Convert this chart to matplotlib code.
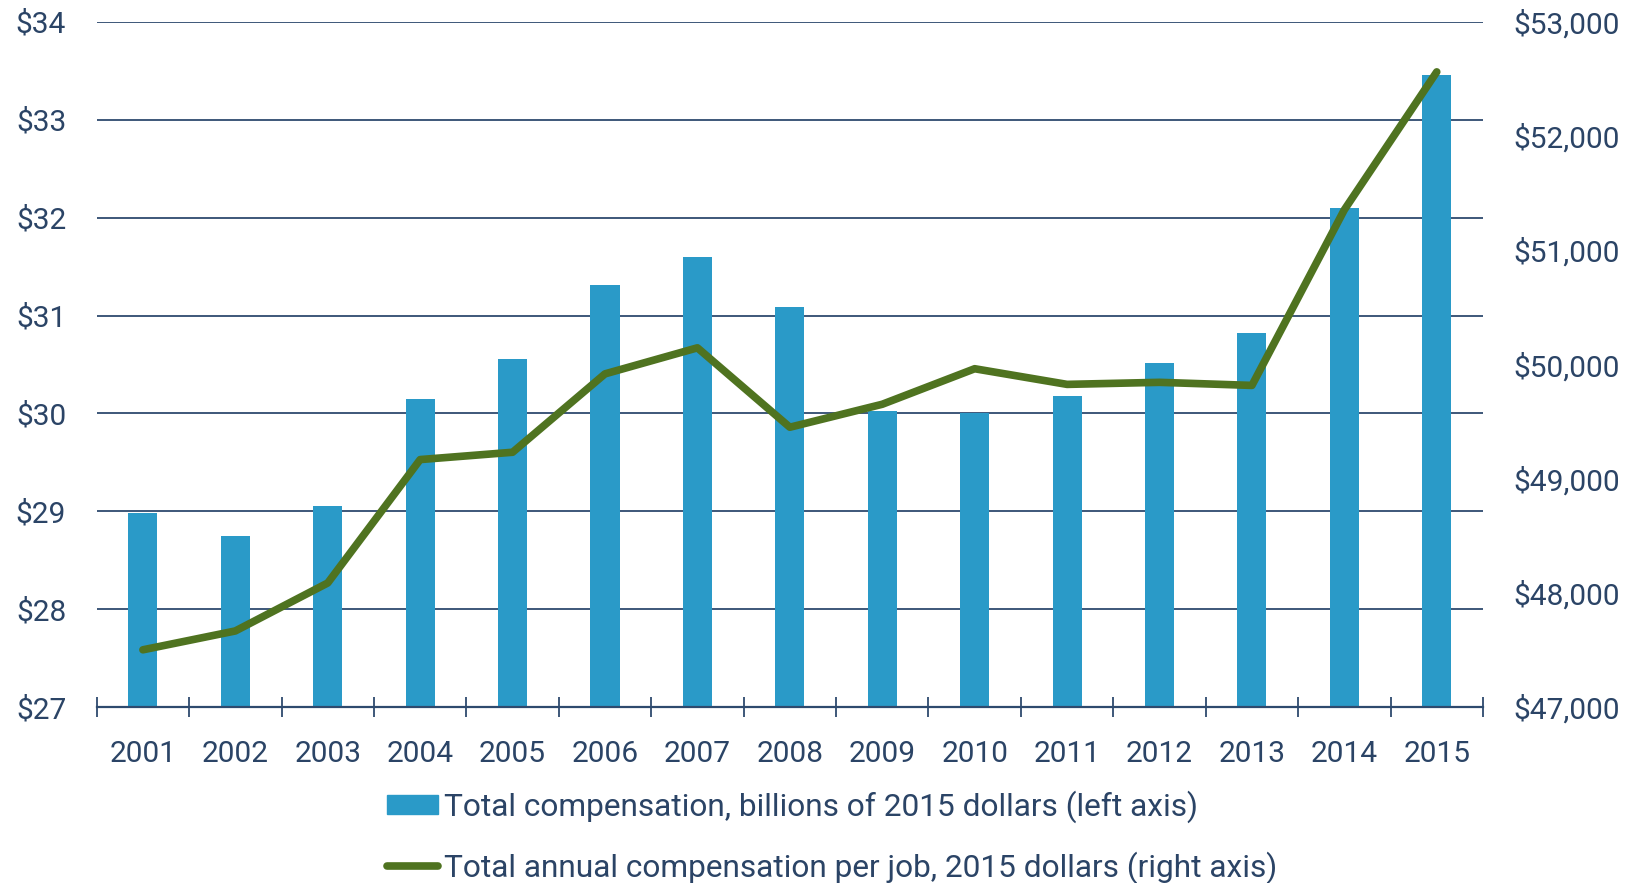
import numpy as np
import matplotlib
matplotlib.use("Agg")
import matplotlib.pyplot as plt
from matplotlib.ticker import FuncFormatter, MultipleLocator
from matplotlib.patches import Patch
from matplotlib.lines import Line2D

# data
years = ["2001", "2002", "2003", "2004", "2005", "2006", "2007", "2008",
         "2009", "2010", "2011", "2012", "2013", "2014", "2015"]
total_comp_bn = [28.98, 28.75, 29.06, 30.15, 30.56, 31.31, 31.60, 31.09,
                 30.03, 30.00, 30.18, 30.52, 30.82, 32.10, 33.46]
comp_per_job = [47503, 47668, 48088, 49168, 49232, 49918, 50146, 49451,
                49652, 49963, 49826, 49844, 49817, 51354, 52561]
bar_label = "Total compensation, billions of 2015 dollars (left axis)"
line_label = "Total annual compensation per job, 2015 dollars (right axis)"

C_BAR, C_LINE, C_TEXT, C_GRID = "#2A9AC8", "#4F7320", "#2B4466", "#2E4A6E"
FS, FS_LEG = 21.5, 22.8

plt.rcParams["font.family"] = ["Roboto", "DejaVu Sans"]

fig = plt.figure(figsize=(16.39, 8.83), dpi=100)
ax = fig.add_axes([0.059, 0.199, 0.9048 - 0.059, 0.9754 - 0.199])
x = np.arange(len(years))

ax.bar(x, total_comp_bn, width=0.315, color=C_BAR, zorder=2)
ax.set_ylim(27, 34)
ax.set_xlim(-0.5, len(years) - 0.5)
ax.yaxis.set_major_locator(MultipleLocator(1))
ax.yaxis.set_major_formatter(FuncFormatter(lambda v, p: f"${v:.0f}"))
ax.grid(axis="y", color=C_GRID, lw=1.3, zorder=0)
ax.set_axisbelow(True)

# year labels centred on bars, tick marks on category boundaries
ax.set_xticks(x)
ax.set_xticklabels(years)
ax.set_xticks(np.arange(len(years) + 1) - 0.5, minor=True)
ax.tick_params(axis="x", which="major", length=0, pad=23.5, labelsize=FS, labelcolor=C_TEXT)
ax.tick_params(axis="x", which="minor", direction="inout", length=14.4, width=1.3, color=C_GRID)
ax.tick_params(axis="y", length=0, pad=22, labelsize=FS, labelcolor=C_TEXT)
for s in ["top", "left", "right"]:
    ax.spines[s].set_visible(False)
ax.spines["bottom"].set_color(C_GRID)
ax.spines["bottom"].set_linewidth(1.6)

ax2 = ax.twinx()
ax2.plot(x, comp_per_job, color=C_LINE, lw=5.5, solid_capstyle="round", solid_joinstyle="round")
ax2.set_ylim(47000, 53000)
ax2.yaxis.set_major_locator(MultipleLocator(1000))
ax2.yaxis.set_major_formatter(FuncFormatter(lambda v, p: f"${v:,.0f}"))
ax2.tick_params(axis="y", length=0, pad=22, labelsize=FS, labelcolor=C_TEXT)
for s in ax2.spines.values():
    s.set_visible(False)

handles = [Patch(color=C_BAR, label=bar_label),
           Line2D([], [], color=C_LINE, lw=5.5, solid_capstyle="round", label=line_label)]
leg = fig.legend(handles=handles, loc="upper left", bbox_to_anchor=(0.236, 0.105),
                 frameon=False, fontsize=FS_LEG, borderpad=0, borderaxespad=0,
                 handlelength=1.62, handleheight=0.55, handletextpad=0.2,
                 labelspacing=0.89)
for t in leg.get_texts():
    t.set_color(C_TEXT)

fig.savefig("out.png", dpi=100)
